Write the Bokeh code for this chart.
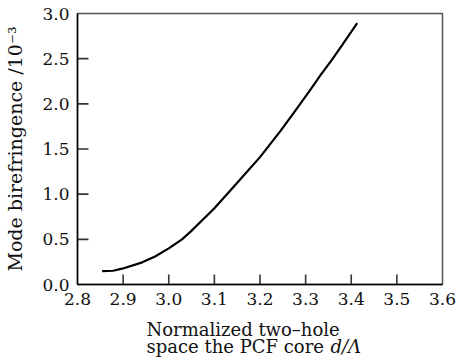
from bokeh.plotting import figure
from bokeh.layouts import column
from bokeh.models import Range1d, FixedTicker, Label, PrintfTickFormatter
from bokeh.embed import file_html
from bokeh.resources import INLINE

# Normalized two-hole spacing d/Λ and mode birefringence (units of 1e-3)
d_over_lambda = [2.854, 2.878, 2.898, 2.942, 2.970, 3.000, 3.029, 3.048,
                 3.075, 3.100, 3.135, 3.172, 3.200, 3.245, 3.274, 3.311,
                 3.333, 3.358, 3.380, 3.413]
birefringence = [0.147, 0.152, 0.175, 0.245, 0.310, 0.400, 0.500, 0.585,
                 0.720, 0.845, 1.040, 1.250, 1.410, 1.700, 1.900, 2.160,
                 2.320, 2.490, 2.650, 2.893]

x_ticks = [2.8, 2.9, 3.0, 3.1, 3.2, 3.3, 3.4, 3.5, 3.6]
y_ticks = [0.0, 0.5, 1.0, 1.5, 2.0, 2.5, 3.0]

FONT = "DejaVu Serif"
TEXT_COLOR = "#111111"
TICK_COLOR = "#333333"
W = 457
MAIN_H, TITLE_H = 316, 47
BORDER_L, BORDER_R, BORDER_T, BORDER_B = 77, 15, 13, 32
X0, X1, Y0, Y1 = 2.8, 3.6, 0.0, 3.0

p = figure(width=W, height=MAIN_H, output_backend="svg", toolbar_location=None,
           x_range=Range1d(X0, X1), y_range=Range1d(Y0, Y1),
           min_border_left=BORDER_L, min_border_right=BORDER_R,
           min_border_top=BORDER_T, min_border_bottom=BORDER_B)
p.frame_align = False
p.grid.visible = False
p.outline_line_color = "#555555"
p.outline_line_width = 1.5

for ax, ticks in ((p.xaxis[0], x_ticks), (p.yaxis[0], y_ticks)):
    ax.ticker = FixedTicker(ticks=ticks)
    ax.formatter = PrintfTickFormatter(format="%.1f")
    ax.axis_line_color = "black"
    ax.axis_line_width = 1.5
    ax.major_tick_in = 0
    ax.major_tick_out = 0
    ax.minor_tick_line_color = None
    ax.major_label_text_font = FONT
    ax.major_label_text_font_size = "17px"
    ax.major_label_text_color = TEXT_COLOR
    ax.major_label_standoff = 8

p.yaxis.axis_label = "Mode birefringence /10\u207b\u00b3"
p.yaxis.axis_label_text_font = FONT
p.yaxis.axis_label_text_font_size = "19px"
p.yaxis.axis_label_text_font_style = "normal"
p.yaxis.axis_label_text_color = TEXT_COLOR
p.yaxis.axis_label_standoff = 13

# Inward tick marks as thin filled bars standing on the axis lines
frame_w = W - BORDER_L - BORDER_R
frame_h = MAIN_H - BORDER_T - BORDER_B
px_x = (X1 - X0) / frame_w      # one pixel in x data units
px_y = (Y1 - Y0) / frame_h      # one pixel in y data units
inner_x = x_ticks[1:-1]
inner_y = y_ticks[1:-1]
p.quad(left=[v - 0.8 * px_x for v in inner_x],
       right=[v + 0.8 * px_x for v in inner_x],
       bottom=[Y0] * len(inner_x), top=[Y0 + 10 * px_y] * len(inner_x),
       fill_color=TICK_COLOR, line_color=None)
p.quad(left=[X0] * len(inner_y), right=[X0 + 11 * px_x] * len(inner_y),
       bottom=[v - 0.8 * px_y for v in inner_y],
       top=[v + 0.8 * px_y for v in inner_y],
       fill_color=TICK_COLOR, line_color=None)

p.line(d_over_lambda, birefringence, line_color="black", line_width=2.2)

# Two-line x-axis title, drawn in a strip under the plot (pixel coordinates)
t = figure(width=W, height=TITLE_H, output_backend="svg", toolbar_location=None,
           x_range=Range1d(0, W), y_range=Range1d(TITLE_H, 0),
           min_border=0, outline_line_color=None)
t.frame_align = False
t.axis.visible = False
t.grid.visible = False


def title_text(text, x, y, style="normal"):
    t.add_layout(Label(x=x, y=y, text=text, text_font=FONT,
                       text_font_size="18px", text_font_style=style,
                       text_color=TEXT_COLOR, text_align="left",
                       text_baseline="alphabetic"))


title_text("Normalized two\u2013hole", 146, 13)
title_text("space the PCF core", 146, 30)
title_text("d/Λ", 330, 30, style="italic")

open("out.html", "w").write(file_html(column(p, t, spacing=0), INLINE))
